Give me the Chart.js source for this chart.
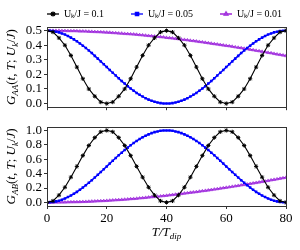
<!DOCTYPE html>
<html>
<head>
<meta charset="utf-8">
<script src="https://cdn.jsdelivr.net/npm/chart.js@4.4.1/dist/chart.umd.min.js"></script>
<style>
  html, body { margin: 0; padding: 0; background: #fff; }
  #wrap { position: relative; width: 300px; height: 250px; overflow: hidden; }
  canvas { position: absolute; left: 0; }
</style>
</head>
<body>
<div id="wrap">
  <canvas id="topChart" width="300" height="117" style="top:0"></canvas>
  <canvas id="bottomChart" width="300" height="133" style="top:117px"></canvas>
</div>
<script>
// ---------------- dati ----------------
var legendLabels = ["Uₖ/J = 0.1", "Uₖ/J = 0.05", "Uₖ/J = 0.01"];
var xTicks = [0, 20, 40, 60, 80];
var yTicksTop = [0, 0.1, 0.2, 0.3, 0.4, 0.5];
var yTicksBottom = [0, 0.2, 0.4, 0.6, 0.8, 1.0];

// T/T_dip, passo 2 (curva nera) e passo 1 (blu, viola)
var tCoarse = [0,2,4,6,8,10,12,14,16,18,20,22,24,26,28,30,32,34,36,38,40,
  42,44,46,48,50,52,54,56,58,60,62,64,66,68,70,72,74,76,78,80];
var tFine = [0,1,2,3,4,5,6,7,8,9,10,11,12,13,14,15,16,17,18,19,20,
  21,22,23,24,25,26,27,28,29,30,31,32,33,34,35,36,37,38,39,40,
  41,42,43,44,45,46,47,48,49,50,51,52,53,54,55,56,57,58,59,60,
  61,62,63,64,65,66,67,68,69,70,71,72,73,74,75,76,77,78,79,80];

// U/J = 0.1
var blackAA = [0.50,0.49,0.45,0.40,0.33,0.25,0.17,0.10,0.05,0.01,0.00,
  0.01,0.05,0.10,0.17,0.25,0.33,0.40,0.45,0.49,0.50,
  0.49,0.45,0.40,0.33,0.25,0.17,0.10,0.05,0.01,0.00,
  0.01,0.05,0.10,0.17,0.25,0.33,0.40,0.45,0.49,0.50];
var blackAB = [0.00,0.02,0.10,0.21,0.35,0.50,0.65,0.79,0.90,0.98,1.00,
  0.98,0.90,0.79,0.65,0.50,0.35,0.21,0.10,0.02,0.00,
  0.02,0.10,0.21,0.35,0.50,0.65,0.79,0.90,0.98,1.00,
  0.98,0.90,0.79,0.65,0.50,0.35,0.21,0.10,0.02,0.00];

// U/J = 0.05
var blueAA = [0.500,0.499,0.497,0.493,0.488,0.481,0.473,0.463,0.452,0.440,
  0.427,0.412,0.397,0.381,0.364,0.346,0.327,0.308,0.289,0.270,
  0.250,0.230,0.211,0.192,0.173,0.154,0.137,0.119,0.103,0.088,
  0.073,0.060,0.048,0.037,0.027,0.019,0.012,0.007,0.003,0.001,0.000,
  0.001,0.003,0.007,0.012,0.019,0.027,0.037,0.048,0.060,0.073,
  0.088,0.103,0.119,0.137,0.154,0.173,0.192,0.211,0.230,0.250,
  0.270,0.289,0.308,0.327,0.346,0.364,0.381,0.397,0.412,0.427,
  0.440,0.452,0.463,0.473,0.481,0.488,0.493,0.497,0.499,0.500];
var blueAB = [0.000,0.002,0.006,0.014,0.024,0.038,0.055,0.074,0.095,0.120,
  0.146,0.175,0.206,0.239,0.273,0.309,0.345,0.383,0.422,0.461,
  0.500,0.539,0.578,0.617,0.655,0.691,0.727,0.761,0.794,0.825,
  0.854,0.880,0.905,0.926,0.945,0.962,0.976,0.986,0.994,0.998,1.000,
  0.998,0.994,0.986,0.976,0.962,0.945,0.926,0.905,0.880,0.854,
  0.825,0.794,0.761,0.727,0.691,0.655,0.617,0.578,0.539,0.500,
  0.461,0.422,0.383,0.345,0.309,0.273,0.239,0.206,0.175,0.146,
  0.120,0.095,0.074,0.055,0.038,0.024,0.014,0.006,0.002,0.000];

// U/J = 0.01
var purpleAA = [0.500,0.500,0.500,0.500,0.500,0.499,0.499,0.498,0.498,0.498,
  0.497,0.496,0.496,0.495,0.494,0.493,0.492,0.491,0.490,0.489,
  0.488,0.487,0.485,0.484,0.482,0.481,0.479,0.478,0.476,0.475,
  0.473,0.471,0.469,0.467,0.465,0.463,0.461,0.459,0.457,0.455,
  0.452,0.450,0.448,0.445,0.443,0.440,0.438,0.435,0.432,0.430,
  0.427,0.424,0.421,0.418,0.415,0.412,0.409,0.406,0.403,0.400,
  0.397,0.394,0.391,0.387,0.384,0.381,0.377,0.374,0.370,0.367,
  0.363,0.360,0.356,0.353,0.349,0.346,0.342,0.338,0.335,0.331,0.327];
var purpleAB = [0.000,0.000,0.000,0.001,0.001,0.002,0.002,0.003,0.004,0.005,
  0.006,0.007,0.009,0.010,0.012,0.014,0.016,0.018,0.020,0.022,
  0.024,0.027,0.030,0.032,0.035,0.038,0.041,0.044,0.048,0.051,
  0.054,0.058,0.062,0.066,0.070,0.074,0.078,0.082,0.086,0.091,
  0.095,0.100,0.105,0.110,0.115,0.120,0.125,0.130,0.136,0.141,
  0.146,0.152,0.158,0.163,0.169,0.175,0.181,0.187,0.194,0.200,
  0.206,0.212,0.219,0.225,0.232,0.239,0.245,0.252,0.259,0.266,
  0.273,0.280,0.287,0.294,0.301,0.309,0.316,0.323,0.331,0.338,0.345];

// ---------------- stile ----------------
var serif = "'Liberation Serif', 'Times New Roman', serif";
var axisColor = "#333";
var legendPad = 27;

function pairs(xs, ys) {
  return xs.map(function(x, i) { return { x: x, y: ys[i] }; });
}

function makeDatasets(black, blue, purple) {
  return [
    { label: legendLabels[0], data: pairs(tCoarse, black), borderColor: "#000", borderWidth: 1.1,
      pointStyle: "star", pointRadius: 2.1, pointBorderWidth: 1, pointBorderColor: "#000", pointBackgroundColor: "#000" },
    { label: legendLabels[1], data: pairs(tFine, blue), borderColor: "#0000ff", borderWidth: 1.5,
      pointStyle: "rect", pointRadius: 1.8, pointBorderWidth: 0, pointBackgroundColor: "#0000ff" },
    { label: legendLabels[2], data: pairs(tFine, purple), borderColor: "#9400d3", borderWidth: 1.5,
      pointStyle: "triangle", pointRadius: 1.8, pointBorderWidth: 0.6, pointBorderColor: "#a030dd", pointBackgroundColor: "#b050e6" }
  ];
}

// icona legenda: linea + marker
function legendIcon(ds) {
  var c = document.createElement("canvas");
  c.width = 12; c.height = 8;
  var g = c.getContext("2d");
  g.strokeStyle = ds.borderColor;
  g.lineWidth = 1.3;
  g.beginPath(); g.moveTo(0, 4); g.lineTo(12, 4); g.stroke();
  g.fillStyle = ds.pointBackgroundColor;
  g.strokeStyle = ds.pointBorderColor || ds.pointBackgroundColor;
  Chart.helpers.drawPoint(g, {
    pointStyle: ds.pointStyle, radius: ds.pointRadius + 0.5, borderWidth: ds.pointBorderWidth || 0.8
  }, 6, 4);
  return c;
}

// testo con pedici: [testo, "i" corsivo | "n" normale | "s" pedice]
function drawRich(ctx, parts, x, y, rotate, size) {
  var subSize = Math.round(size * 0.7);
  function font(p) {
    if (p[1] === "s") return "italic " + subSize + "px " + serif;
    if (p[1] === "i") return "italic " + size + "px " + serif;
    return size + "px " + serif;
  }
  ctx.save();
  var total = 0;
  parts.forEach(function(p) { ctx.font = font(p); total += ctx.measureText(p[0]).width; });
  ctx.translate(x, y);
  if (rotate) ctx.rotate(-Math.PI / 2);
  ctx.fillStyle = "#000";
  ctx.textBaseline = "middle";
  ctx.textAlign = "left";
  var cx = -total / 2;
  parts.forEach(function(p) {
    ctx.font = font(p);
    ctx.fillText(p[0], cx, p[1] === "s" ? size * 0.28 : 0);
    cx += ctx.measureText(p[0]).width;
  });
  ctx.restore();
}

var frameBox = {
  id: "frameBox",
  afterDatasetsDraw: function(chart) {
    var a = chart.chartArea, c = chart.ctx;
    c.save();
    c.strokeStyle = axisColor;
    c.lineWidth = 1;
    c.strokeRect(Math.round(a.left) + 0.5, Math.round(a.top) + 0.5,
      Math.round(a.right - a.left), Math.round(a.bottom - a.top));
    c.restore();
  }
};

// legenda su una riga, alta 27px, allineata al bordo sinistro del grafico
var legendPlace = {
  id: "legendPlace",
  afterInit: function(chart) {
    var lg = chart.legend, fit = lg.fit;
    lg.fit = function() {
      var mw = this.maxWidth;
      this.maxWidth = 800;
      fit.call(this);
      this.maxWidth = mw;
      this.width = mw;
      this.height = 27;
    };
  },
  beforeDraw: function(chart) {
    var lg = chart.legend;
    lg.left = 47 - legendPad;
    lg.right = 420;
    lg.top = 15 - legendPad - 6;
    lg.bottom = 27;
  }
};

function titlePlugin(id, drawFn) {
  return { id: id, afterDraw: function(chart) { drawFn(chart.ctx, chart.chartArea); } };
}

function scalesFor(yMin, yMax, yTicks, showX, xHeight) {
  return {
    x: {
      type: "linear", min: 0, max: 80,
      afterBuildTicks: function(s) { s.ticks = xTicks.map(function(v) { return { value: v }; }); },
      afterFit: function(s) { s.height = xHeight; },
      border: { display: false },
      grid: { drawOnChartArea: false, tickLength: 3, color: axisColor },
      ticks: { display: showX, padding: 2, color: "#000", font: { family: serif, size: 13 },
        maxRotation: 0, autoSkip: false }
    },
    y: {
      min: yMin, max: yMax,
      afterBuildTicks: function(s) { s.ticks = yTicks.map(function(v) { return { value: v }; }); },
      afterFit: function(s) { s.width = 47; },
      border: { display: false },
      grid: { drawOnChartArea: false, tickLength: 3, color: axisColor },
      ticks: { padding: 2, color: "#000", font: { family: serif, size: 13 }, autoSkip: false,
        callback: function(v) { return Number(v).toFixed(1); } }
    }
  };
}

// ---------------- grafico sopra: G_AA ----------------
var topDatasets = makeDatasets(blackAA, blueAA, purpleAA);
new Chart(document.getElementById("topChart"), {
  type: "line",
  data: { datasets: topDatasets },
  options: {
    responsive: false, animation: false, devicePixelRatio: 1,
    layout: { padding: { left: 0, right: 14, top: 0, bottom: 0 } },
    scales: scalesFor(-0.025, 0.525, yTicksTop, false, 6),
    plugins: {
      tooltip: { enabled: false },
      legend: {
        position: "top", align: "start",
        labels: {
          usePointStyle: true, pointStyleWidth: 12, boxHeight: 8, padding: legendPad,
          color: "#000", font: { family: serif, size: 10 },
          generateLabels: function(chart) {
            return chart.data.datasets.map(function(ds, i) {
              return { text: legendLabels[i], pointStyle: legendIcon(ds), datasetIndex: i,
                fillStyle: ds.borderColor, strokeStyle: ds.borderColor, lineWidth: 0, hidden: false };
            });
          }
        }
      }
    }
  },
  plugins: [legendPlace, frameBox, titlePlugin("yTitleTop", function(ctx, a) {
    drawRich(ctx, [["G", "i"], ["AA", "s"], ["(", "n"], ["t", "i"], [", ", "n"], ["T", "i"], ["; ", "n"],
      ["U", "i"], ["k", "s"], ["/", "n"], ["J", "i"], [")", "n"]], 12, (a.top + a.bottom) / 2, true, 13);
  })]
});

// ---------------- grafico sotto: G_AB ----------------
var bottomDatasets = makeDatasets(blackAB, blueAB, purpleAB);
new Chart(document.getElementById("bottomChart"), {
  type: "line",
  data: { datasets: bottomDatasets },
  options: {
    responsive: false, animation: false, devicePixelRatio: 1,
    layout: { padding: { left: 0, right: 14, top: 6, bottom: 0 } },
    scales: scalesFor(-0.05, 1.05, yTicksBottom, true, 44),
    plugins: { tooltip: { enabled: false }, legend: { display: false } }
  },
  plugins: [frameBox,
    titlePlugin("yTitleBottom", function(ctx, a) {
      drawRich(ctx, [["G", "i"], ["AB", "s"], ["(", "n"], ["t", "i"], [", ", "n"], ["T", "i"], ["; ", "n"],
        ["U", "i"], ["k", "s"], ["/", "n"], ["J", "i"], [")", "n"]], 12, (a.top + a.bottom) / 2, true, 13);
    }),
    titlePlugin("xTitle", function(ctx, a) {
      drawRich(ctx, [["T", "i"], ["/", "i"], ["T", "i"], ["dip", "s"]], (a.left + a.right) / 2, 116, false, 13);
    })
  ]
});
</script>
</body>
</html>
